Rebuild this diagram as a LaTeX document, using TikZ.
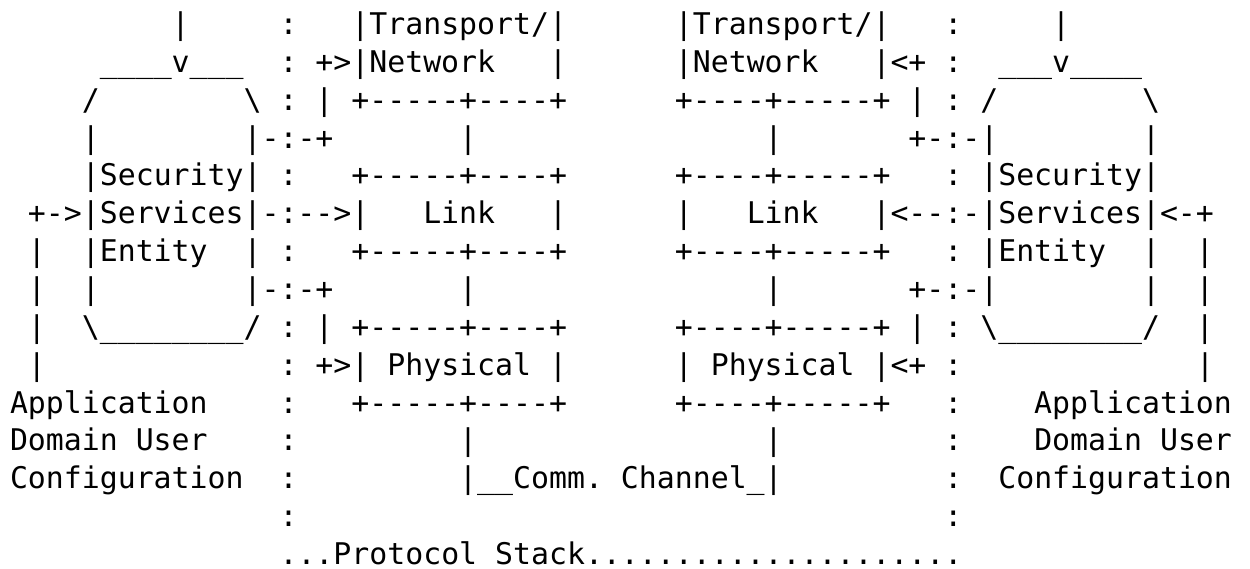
\documentclass[tikz,border=0pt]{standalone}
\usepackage{fontspec}
\setmonofont{DejaVu Sans Mono}
\usepackage{tikz}
\usetikzlibrary{positioning}

% blank columns of the fixed-width grid
\newcommand{\colskip}[1]{\hspace*{#1\fontcharwd\font`x}}

\begin{document}
\begin{tikzpicture}[x=0.33503pt,y=0.33503pt,node distance=12.681pt,ascii line/.style={anchor=base west, inner sep=0pt, outer sep=0pt, font=\ttfamily\fontsize{10}{12}\selectfont}]
				\useasboundingbox (0,0) rectangle (1250,-568);
				\fill[white] (0,0) rectangle (1250,-568);
				
				\node[ascii line] (1) at (10,-34.5) {\colskip{9}|\colskip{5}:\colskip{3}|Transport/|\colskip{6}|Transport/|\colskip{3}:\colskip{5}|};
				\node[ascii line] (2) [below=of 1.base west, anchor=base west] {\colskip{5}\_\_\_\_v\_\_\_\colskip{2}:~+>|Network\colskip{3}|\colskip{6}|Network\colskip{3}|<+~:\colskip{2}\_\_\_v\_\_\_\_};
				\node[ascii line] (3) [below=of 2.base west, anchor=base west] {\colskip{4}/\colskip{8}\textbackslash{}~:~|~+-----+----+\colskip{6}+----+-----+~|~:~/\colskip{8}\textbackslash{}};
				\node[ascii line] (4) [below=of 3.base west, anchor=base west] {\colskip{4}|\colskip{8}|-:-+\colskip{7}|\colskip{16}|\colskip{7}+-:-|\colskip{8}|};
				\node[ascii line] (5) [below=of 4.base west, anchor=base west] {\colskip{4}|Security|~:\colskip{3}+-----+----+\colskip{6}+----+-----+\colskip{3}:~|Security|};
				\node[ascii line] (6) [below=of 5.base west, anchor=base west] {~+->|Services|-:-->|\colskip{3}Link\colskip{3}|\colskip{6}|\colskip{3}Link\colskip{3}|<--:-|Services|<-+};
				\node[ascii line] (7) [below=of 6.base west, anchor=base west] {~|\colskip{2}|Entity\colskip{2}|~:\colskip{3}+-----+----+\colskip{6}+----+-----+\colskip{3}:~|Entity\colskip{2}|\colskip{2}|};
				\node[ascii line] (8) [below=of 7.base west, anchor=base west] {~|\colskip{2}|\colskip{8}|-:-+\colskip{7}|\colskip{16}|\colskip{7}+-:-|\colskip{8}|\colskip{2}|};
				\node[ascii line] (9) [below=of 8.base west, anchor=base west] {~|\colskip{2}\textbackslash\_\_\_\_\_\_\_\_/~:~|~+-----+----+\colskip{6}+----+-----+~|~:~\textbackslash\_\_\_\_\_\_\_\_/\colskip{2}|};
				\node[ascii line] (10) [below=of 9.base west, anchor=base west] {~|\colskip{13}:~+>|~Physical~|\colskip{6}|~Physical~|<+~:\colskip{13}|};
				
				\node[ascii line] (11) [below=of 10.base west, anchor=base west] {Application\colskip{4}:\colskip{3}+-----+----+\colskip{6}+----+-----+\colskip{3}:\colskip{4}Application};
				\node[ascii line] (12) [below=of 11.base west, anchor=base west] {Domain~User\colskip{4}:\colskip{9}|\colskip{16}|\colskip{9}:\colskip{4}Domain~User};
				\node[ascii line] (13) [below=of 12.base west, anchor=base west] {Configuration\colskip{2}:\colskip{9}|\_\_Comm.~Channel\_|\colskip{9}:\colskip{2}Configuration};
				\node[ascii line] (14) [below=of 13.base west, anchor=base west] {\colskip{15}:\colskip{36}:};
				\node[ascii line] (15) [below=of 14.base west, anchor=base west] {\colskip{15}...Protocol~Stack.....................};
				
				\end{tikzpicture}
\end{document}
